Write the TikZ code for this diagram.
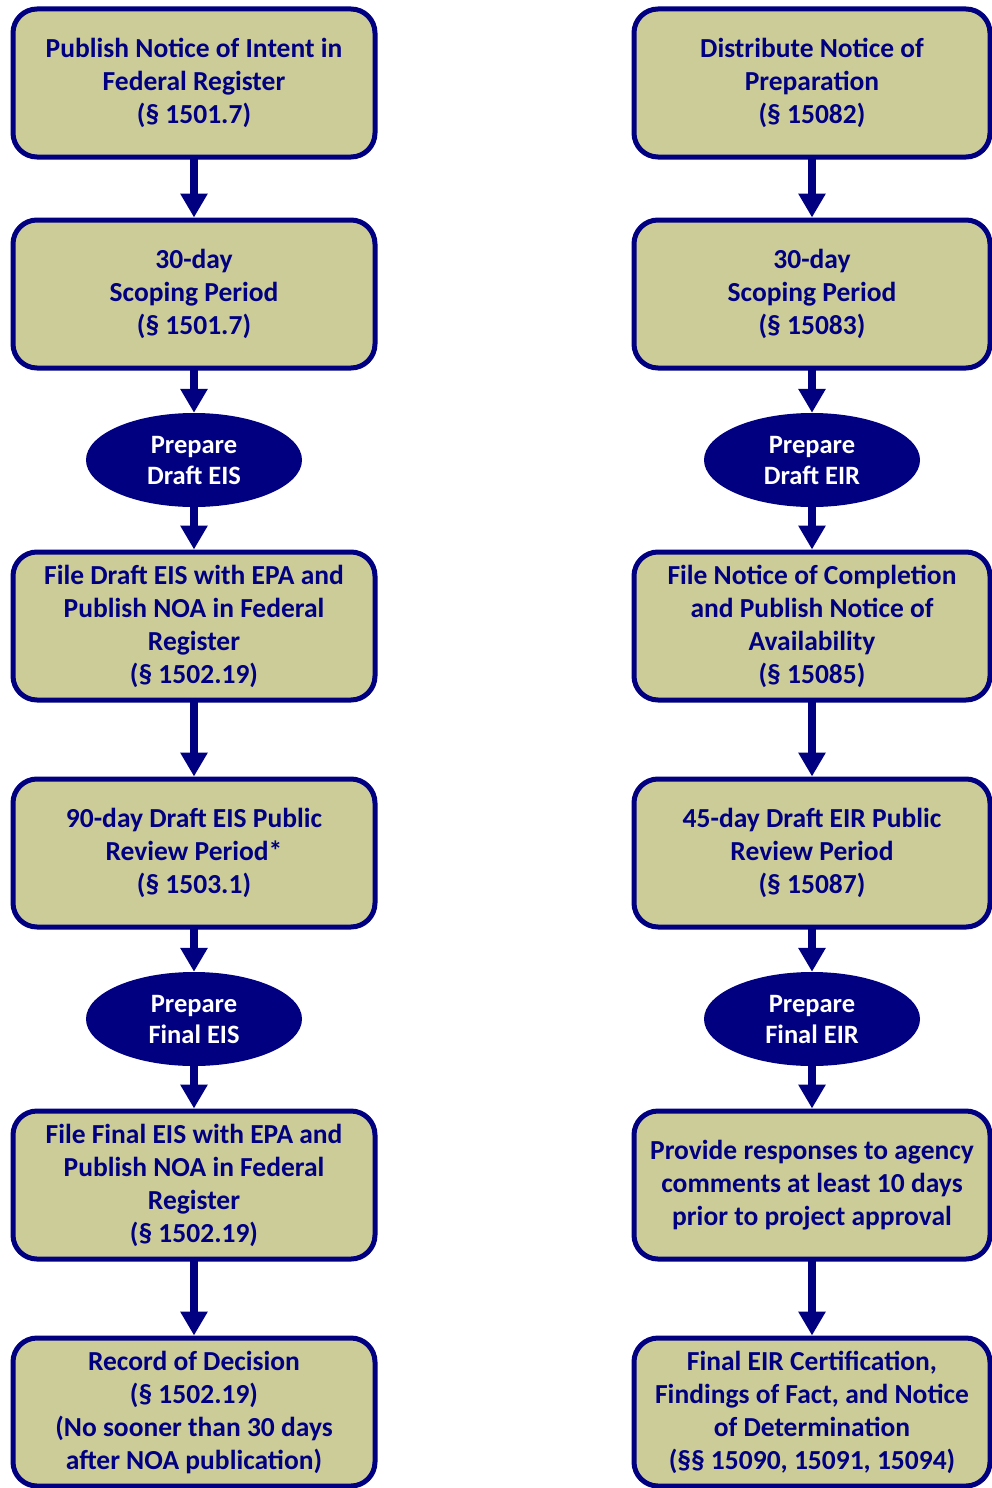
\documentclass[tikz,border=0pt]{standalone}
\usepackage{fontspec}
\setmainfont{Carlito}
\usetikzlibrary{arrows.meta,shapes.geometric}
\definecolor{navy}{RGB}{0,0,128}
\definecolor{khaki}{RGB}{204,204,153}
\tikzset{
  stepbox/.style={draw=navy, line width=5pt, fill=khaki, rounded corners=24pt,
    minimum width=#1, minimum height=148pt, align=center, text=navy,
    font=\bfseries\fontsize{27.5}{33}\selectfont, inner sep=0pt},
  stepbox/.default=362pt,
  prep/.style={ellipse, fill=navy, draw=none, minimum width=216pt, minimum height=94pt,
    align=center, text=white, font=\bfseries\fontsize{26.5}{31}\selectfont, inner sep=0pt},
  flow/.style={draw=navy, line width=8pt, -{Triangle[width=26pt,length=24pt]}, shorten <=-1pt}
}
\begin{document}
\begin{tikzpicture}[x=1pt,y=-1pt]
\useasboundingbox (0,0) rectangle (992,1488);
% left column
\node[stepbox] (l1) at (194,83) {Publish Notice of Intent in\\Federal Register\\(§ 1501.7)};
\node[stepbox] (l2) at (194,294) {30-day\\Scoping Period\\(§ 1501.7)};
\node[prep] (l3) at (194,460) {Prepare\\Draft EIS};
\node[stepbox] (l4) at (194,626) {File Draft EIS with EPA and\\Publish NOA in Federal\\Register\\(§ 1502.19)};
\node[stepbox] (l5) at (194,853) {90-day Draft EIS Public\\Review Period*\\(§ 1503.1)};
\node[prep] (l6) at (194,1019) {Prepare\\Final EIS};
\node[stepbox] (l7) at (194,1185) {File Final EIS with EPA and\\Publish NOA in Federal\\Register\\(§ 1502.19)};
\node[stepbox] (l8) at (194,1412) {Record of Decision\\(§ 1502.19)\\(No sooner than 30 days\\after NOA publication)};
% right column
\node[stepbox=356pt] (r1) at (812,83) {Distribute Notice of\\Preparation\\(§ 15082)};
\node[stepbox=356pt] (r2) at (812,294) {30-day\\Scoping Period\\(§ 15083)};
\node[prep] (r3) at (812,460) {Prepare\\Draft EIR};
\node[stepbox=356pt] (r4) at (812,626) {File Notice of Completion\\and Publish Notice of\\Availability\\(§ 15085)};
\node[stepbox=356pt] (r5) at (812,853) {45-day Draft EIR Public\\Review Period\\(§ 15087)};
\node[prep] (r6) at (812,1019) {Prepare\\Final EIR};
\node[stepbox=356pt] (r7) at (812,1185) {Provide responses to agency\\comments at least 10 days\\prior to project approval};
\node[stepbox=356pt] (r8) at (812,1412) {Final EIR Certification,\\Findings of Fact, and Notice\\of Determination\\(§§ 15090, 15091, 15094)};
% connectors
\foreach \c in {l,r}{
  \draw[flow] (\c1.south) -- (\c2.north);
  \draw[flow] (\c2.south) -- (\c3.north);
  \draw[flow] (\c3.south) -- (\c4.north);
  \draw[flow] (\c4.south) -- (\c5.north);
  \draw[flow] (\c5.south) -- (\c6.north);
  \draw[flow] (\c6.south) -- (\c7.north);
  \draw[flow] (\c7.south) -- (\c8.north);
}
\end{tikzpicture}
\end{document}
